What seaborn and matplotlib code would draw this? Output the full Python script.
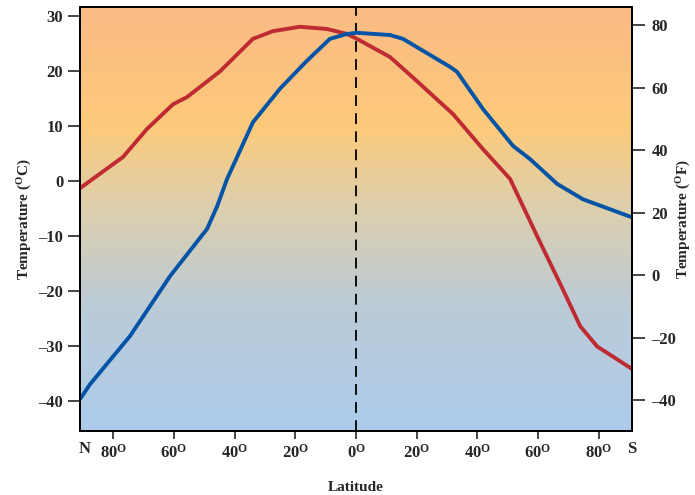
import numpy as np
import pandas as pd
import matplotlib
matplotlib.use("Agg")
import matplotlib.pyplot as plt
from matplotlib.colors import LinearSegmentedColormap
import seaborn as sns

# latitude: negative = north, positive = south
red_lat = [-91, -76.8, -68.9, -60.3, -55.7, -44.8, -34.0, -27.4, -18.5, -9.6, -3.0, 0.3,
           11.2, 20.1, 32.0, 41.9, 50.8, 59.7, 68.2, 73.9, 79.5, 91]
red_temp = [-1.3, 4.4, 9.5, 14.0, 15.3, 20.0, 25.9, 27.3, 28.1, 27.7, 26.8, 25.9,
            22.6, 18.2, 12.2, 5.8, 0.4, -10.0, -19.7, -26.4, -30.1, -34.2]

blue_lat = [-91, -87.7, -74.5, -61.3, -49.1, -45.8, -42.5, -40.6, -34.0, -25.1, -16.2, -8.6,
            -3.0, 0.3, 11.2, 15.5, 31.0, 33.3, 41.9, 51.8, 57.4, 66.3, 74.8, 91]
blue_temp = [-39.7, -37.0, -28.2, -17.3, -8.7, -4.6, 0.4, 2.7, 10.7, 16.8, 21.9, 25.9,
             26.8, 27.0, 26.6, 25.9, 20.8, 19.9, 13.1, 6.4, 4.0, -0.5, -3.3, -6.6]

c_ticks = [-40, -30, -20, -10, 0, 10, 20, 30]
f_ticks = [-40, -20, 0, 20, 40, 60, 80]
lat_ticks = [-80, -60, -40, -20, 0, 20, 40, 60, 80]

sns.set_style("ticks")
plt.rcParams["font.family"] = ["Liberation Serif", "DejaVu Serif"]
plt.rcParams["font.weight"] = "bold"
plt.rcParams["mathtext.fontset"] = "custom"
plt.rcParams["mathtext.rm"] = "Liberation Serif:bold"
plt.rcParams["mathtext.it"] = "Liberation Serif:bold"
plt.rcParams["mathtext.bf"] = "Liberation Serif:bold"

fig = plt.figure(figsize=(6.95, 4.95), dpi=100)
ax = fig.add_axes([80 / 695, 1 - 431 / 495, 552 / 695, 424 / 495])

# background gradient
cmap = LinearSegmentedColormap.from_list(
    "bg", [(0.0, "#acccec"), (0.30, "#bccbd6"), (0.55, "#e0cfa8"),
           (0.72, "#fdca7a"), (1.0, "#fabb85")])
grad = np.linspace(0, 1, 256).reshape(-1, 1)
ax.imshow(grad, aspect="auto", cmap=cmap, origin="lower",
          extent=[0, 1, 0, 1], transform=ax.transAxes, zorder=0)

df_red = pd.DataFrame({"lat": red_lat, "temp": red_temp})
df_blue = pd.DataFrame({"lat": blue_lat, "temp": blue_temp})
sns.lineplot(data=df_red, x="lat", y="temp", color="#bf2b33", lw=2.8, sort=False, ax=ax,
             zorder=3, solid_joinstyle="round", solid_capstyle="butt")
sns.lineplot(data=df_blue, x="lat", y="temp", color="#0353a6", lw=2.8, sort=False, ax=ax,
             zorder=3, solid_joinstyle="round", solid_capstyle="butt")
ax.axvline(0, color="black", lw=1.3, ls=(0, (6, 4)), zorder=2)

ax.set_xlim(-91, 91)
ax.set_ylim(-45.5, 31.7)
ax.set_yticks(c_ticks)
ax.set_yticklabels([str(t).replace("-", "\u2013") for t in c_ticks])
ax.set_xticks(lat_ticks)
ax.set_xticklabels([f"{abs(t)}$^{{\\mathrm{{O}}}}$" for t in lat_ticks])
ax.tick_params(axis="y", length=9, width=1.2, labelsize=12, pad=3)
ax.tick_params(axis="x", length=6, width=1.2, labelsize=12, pad=3)
ax.set_xlabel("Latitude", fontsize=11, fontweight="bold", labelpad=14)
ax.set_ylabel("Temperature ($^{\\mathrm{O}}$C)", fontsize=11, fontweight="bold", labelpad=3)
for s in ax.spines.values():
    s.set_linewidth(1.3)
    s.set_color("black")

ax.text(-89.5, -0.024, "N", transform=ax.get_xaxis_transform(), ha="center", va="top",
        fontsize=12, fontweight="bold")
ax.text(91, -0.024, "S", transform=ax.get_xaxis_transform(), ha="center", va="top",
        fontsize=12, fontweight="bold")

ax2 = ax.twinx()
ax2.set_ylim(-49.9, 85.8)
ax2.set_yticks(f_ticks)
ax2.set_yticklabels([str(t).replace("-", "\u2013") for t in f_ticks])
ax2.tick_params(axis="y", length=9, width=1.2, labelsize=12, pad=5)
ax2.set_ylabel("Temperature ($^{\\mathrm{O}}$F)", fontsize=11, fontweight="bold", labelpad=-1)
for s in ax2.spines.values():
    s.set_linewidth(1.3)
    s.set_color("black")

fig.savefig("out.png", dpi=100)
